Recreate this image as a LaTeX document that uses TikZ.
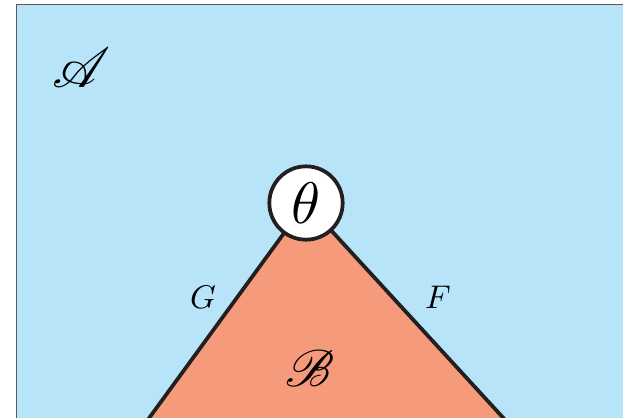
\documentclass[tikz,border=0pt]{standalone}
\usepackage{mathrsfs}
\usepackage{graphicx}
\usetikzlibrary{positioning}
\definecolor{skyA}{RGB}{184,228,249}
\definecolor{salmonB}{RGB}{246,154,124}
\definecolor{inkline}{RGB}{35,31,32}
\tikzset{
  frame/.style  = {draw=gray!70!black, line width=0.8pt},
  region/.style = {fill=salmonB, draw=inkline, line width=3.2pt, line join=miter},
  vertex/.style = {draw=inkline, circle, fill=white, line width=3.2pt,
                   minimum size=2.2cm, inner sep=0pt},
  edgelbl/.style = {inner sep=0pt},
  setlbl/.style  = {inner sep=0pt},
}

\begin{document}
\begin{tikzpicture}[x=0.03cm, y=-0.03cm]

  \useasboundingbox (0,0) rectangle (623,417);
  \clip (0,0) rectangle (623,417);

  % outer set
  \fill[skyA] (16,4) rectangle (650,450);
  \draw[frame] (16,450) -- (16,4) -- (650,4);
  \node[setlbl] (setA) at (82,68) {\scalebox{4.8}{$\mathscr{A}$}};

  % inner cone
  \coordinate (apex) at (306,203);
  \coordinate (baseL) at (128,447);
  \coordinate (baseR) at (530,447);
  \path[region] (apex) -- (baseL) -- (baseR) -- cycle;
  \node[setlbl] (setB) at (310,368) {\scalebox{4.4}{$\mathscr{B}$}};

  % vertex and maps
  \node[vertex] (theta) at (apex) {\scalebox{5}{$\theta$}};
  \node[edgelbl] (mapG) at (203,297) {\scalebox{2.8}{$G$}};
  \node[edgelbl] (mapF) at (438,297) {\scalebox{2.8}{$F$}};

\end{tikzpicture}
\end{document}
